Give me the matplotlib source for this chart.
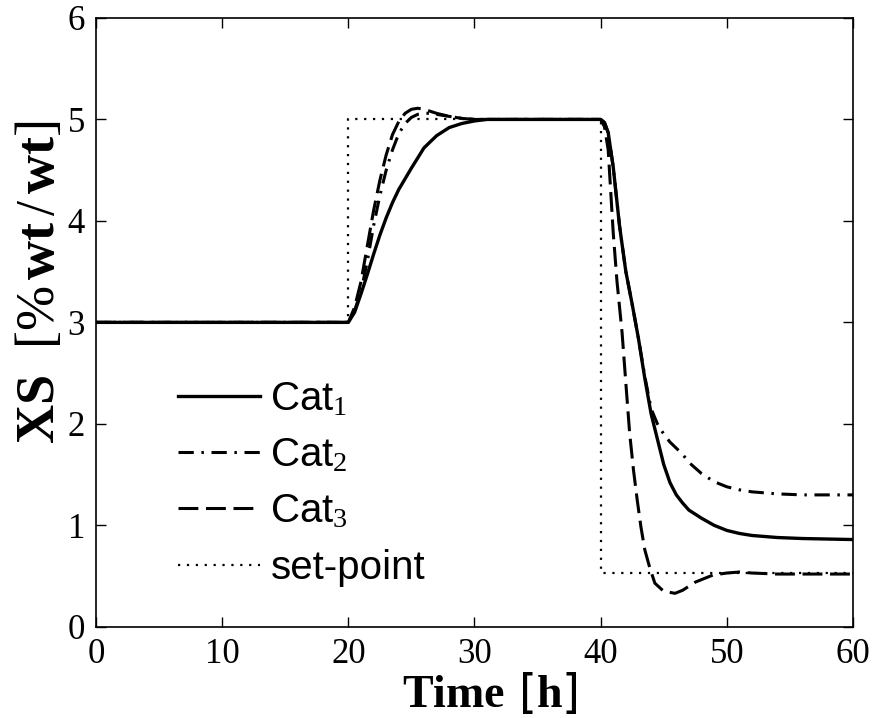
import matplotlib
matplotlib.use('Agg')
import matplotlib.pyplot as plt

plt.rcParams['mathtext.fontset'] = 'custom'
plt.rcParams['mathtext.rm'] = 'Liberation Serif'
plt.rcParams['mathtext.bf'] = 'Liberation Serif:bold'
plt.rcParams['mathtext.it'] = 'Liberation Serif:italic'

# Cat1 (solid)
t_cat1 = [0, 20, 20.5, 21, 21.5, 22, 22.5, 23, 23.5, 24, 25, 26, 27, 28, 29, 30, 31, 40,
          40.3, 40.6, 41, 41.5, 42, 42.5, 43, 43.5, 44, 44.5, 45, 45.5, 46, 46.5, 47, 48,
          49, 50, 51, 52, 54, 56, 60]
xs_cat1 = [3, 3, 3.1, 3.28, 3.47, 3.67, 3.86, 4.03, 4.18, 4.31, 4.52, 4.72, 4.84, 4.92, 4.96,
           4.985, 5.0, 5.0, 4.97, 4.87, 4.53, 3.95, 3.5, 3.18, 2.84, 2.45, 2.1, 1.85, 1.6,
           1.42, 1.3, 1.22, 1.15, 1.07, 1.0, 0.95, 0.92, 0.9, 0.88, 0.87, 0.86]

# Cat2 (dash-dot)
t_cat2 = [0, 20, 20.5, 21, 21.5, 22, 22.5, 23, 23.5, 24, 24.5, 25, 25.5, 26, 26.5, 27, 28,
          29, 30, 40, 40.3, 40.6, 41, 41.5, 42, 42.5, 43, 43.5, 44, 44.5, 45, 45.5, 46,
          46.5, 47, 48, 49, 50, 51, 52, 54, 56, 60]
xs_cat2 = [3, 3, 3.12, 3.3, 3.6, 3.95, 4.25, 4.5, 4.7, 4.86, 4.96, 5.02, 5.05, 5.06, 5.06,
           5.05, 5.03, 5.01, 5.0, 5.0, 4.97, 4.87, 4.53, 3.95, 3.5, 3.18, 2.84, 2.47, 2.15,
           2.0, 1.9, 1.82, 1.76, 1.7, 1.62, 1.51, 1.43, 1.38, 1.35, 1.33, 1.31, 1.3, 1.3]

# Cat3 (dashed)
t_cat3 = [0, 20, 20.5, 21, 21.5, 22, 22.5, 23, 23.5, 24, 24.5, 25, 25.5, 26, 27, 28, 29, 30,
          40, 40.3, 40.6, 41, 41.3, 41.7, 42, 42.3, 42.6, 42.9, 43.2, 43.5, 43.9, 44.3,
          45, 45.9, 46.5, 47.5, 48.9, 50, 51, 52, 54, 60]
xs_cat3 = [3, 3, 3.15, 3.4, 3.75, 4.1, 4.4, 4.65, 4.85, 4.98, 5.06, 5.1, 5.11, 5.1, 5.06,
           5.03, 5.01, 5.0, 5.0, 4.93, 4.7, 3.88, 3.4, 2.9, 2.4, 1.91, 1.55, 1.25, 0.98,
           0.76, 0.58, 0.43, 0.35, 0.33, 0.36, 0.44, 0.51, 0.53, 0.54, 0.53, 0.52, 0.52]

# set-point
t_sp = [0, 20, 20, 40, 40, 60]
xs_sp = [3, 3, 5, 5, 0.53, 0.53]

fig = plt.figure(figsize=(8.73, 7.18), dpi=100)
ax = fig.add_axes([0.110, 0.127, 0.867, 0.848])

ax.plot(t_cat1, xs_cat1, color='black', lw=2.4, label='Cat$_1$')
ax.plot(t_cat2, xs_cat2, color='black', lw=2.2, ls=(0, (5, 2.5, 0.8, 2.5)), label='Cat$_2$')
ax.plot(t_cat3, xs_cat3, color='black', lw=2.2, ls=(0, (6.5, 2.5)), label='Cat$_3$')
ax.plot(t_sp, xs_sp, color='black', lw=1.6, ls=(0, (1, 3)), label='set-point')

ax.set_xlim(0, 60)
ax.set_ylim(0, 6)
ax.set_xticks([0, 10, 20, 30, 40, 50, 60])
ax.set_yticks([0, 1, 2, 3, 4, 5, 6])
ax.tick_params(direction='in', length=7, width=1, top=True, right=True, pad=8)
for lab in ax.get_xticklabels() + ax.get_yticklabels():
    lab.set_family('Liberation Serif')
    lab.set_fontsize(25)
for s in ax.spines.values():
    s.set_linewidth(1.2)

ax.set_xlabel(r'$\mathbf{Time}$ [$\mathbf{h}$]', fontsize=33, labelpad=0)
ax.xaxis.label.set_x(0.52)
ax.set_ylabel(r'$\mathbf{XS}\ \ [\%\,\mathbf{wt}\,/\,\mathbf{wt}]$', fontsize=39, labelpad=2)
ax.yaxis.label.set_y(0.565)

leg = ax.legend(loc='upper left', bbox_to_anchor=(0.108, 0.405), frameon=False,
                prop={'family': 'Liberation Sans', 'size': 29}, handlelength=2.05,
                handletextpad=0.25, labelspacing=0.45, borderpad=0, borderaxespad=0)

fig.savefig('out.png', dpi=100)
